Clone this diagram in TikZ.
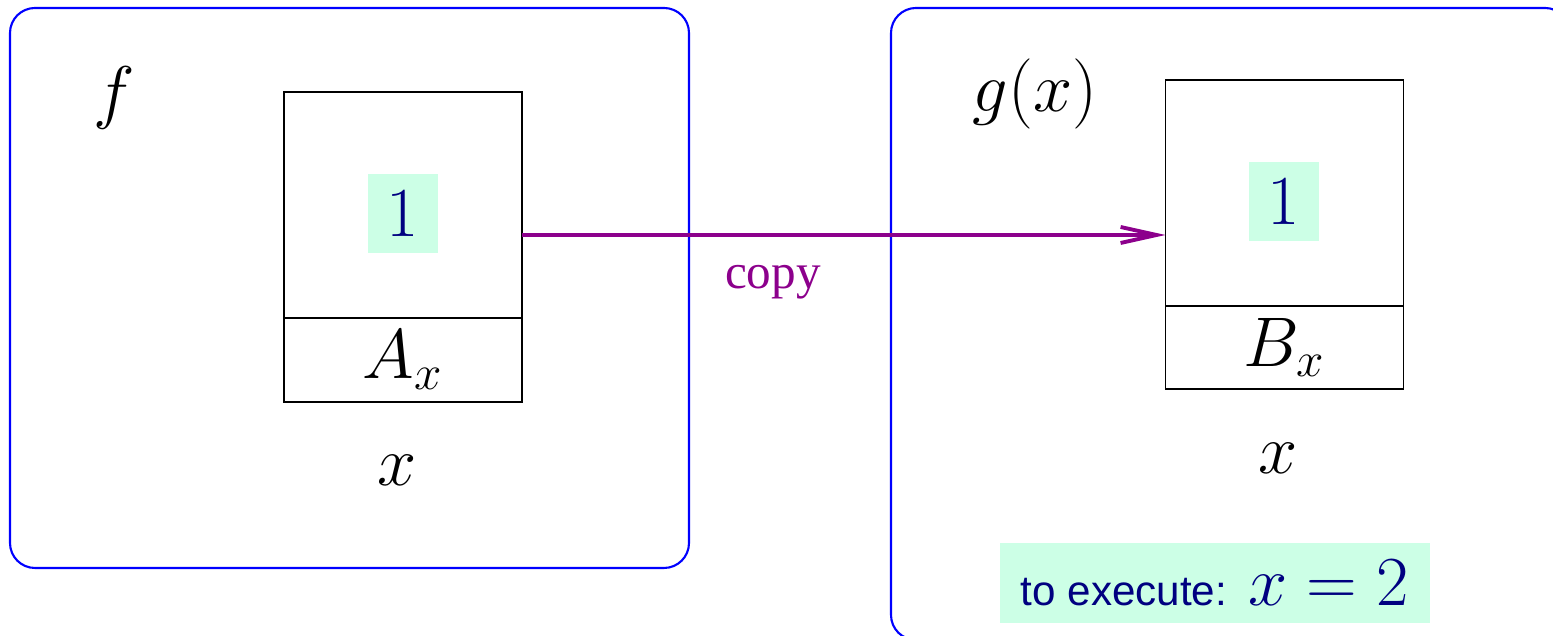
\RequirePackage{fix-cm}
\documentclass[tikz,border=0pt]{standalone}
\usepackage{fontspec}
\setsansfont{Liberation Sans}
\newfontfamily\copyfont{Liberation Serif}
\usetikzlibrary{arrows.meta}
\definecolor{framecol}{RGB}{0,0,255}
\definecolor{copycol}{RGB}{140,0,140}
\definecolor{valtext}{RGB}{0,0,128}
\definecolor{valfill}{RGB}{204,255,230}
\tikzset{frame/.style={draw=framecol,line width=0.6pt,rounded corners=0.25cm},
 cell/.style={draw,line width=0.55pt,inner sep=0pt,outer sep=0pt,minimum width=2.38cm},
 valbox/.style={fill=valfill,text=valtext,inner sep=0pt,minimum width=0.7cm,minimum height=0.79cm},
 copyarrow/.style={-{Straight Barb[length=3.6mm,width=1.6mm]},copycol,line width=1.1pt},
 every node/.style={font=\fontsize{20}{24}\selectfont}}

\begin{document}
\begin{tikzpicture}
\useasboundingbox (0,0) rectangle (15.53,6.36);
\clip (0,0) rectangle (15.53,6.36);
\draw[frame] (0.10,0.68) rectangle (6.89,6.28);
\draw[frame] (8.91,-0.04) rectangle (15.70,6.28);
% caller f
\node (fname) at (1.14,5.38) {$f$};
\node[cell,minimum height=2.26cm] (boxA) at (4.03,4.31) {};
\node[cell,minimum height=0.84cm,anchor=north] (nameA) at (boxA.south) {$A_x$};
\node[valbox] (valA) at (4.03,4.225) {$1$};
\node (xA) at (3.97,1.66) {$x$};
% callee g(x)
\node (gname) at (10.35,5.42) {$g(x)$};
\node[cell,minimum height=2.26cm] (boxB) at (12.845,4.43) {};
\node[cell,minimum height=0.83cm,anchor=north] (nameB) at (boxB.south) {$B_x$};
\node[valbox] (valB) at (12.84,4.345) {$1$};
\node (xB) at (12.78,1.78) {$x$};
\node[fill=valfill,text=valtext,inner sep=0pt,minimum width=4.3cm,minimum height=0.8cm] (exec) at (12.15,0.53)
 {{\sffamily\fontsize{12}{14}\selectfont to execute:}\ $x=2$};
% copy of the value
\coordinate (copyfrom) at ([yshift=-3mm]boxA.east);
\draw[copyarrow] (copyfrom) -- (copyfrom -| boxB.west)
 node[pos=0.39,yshift=-0.47cm,text=copycol,font=\copyfont\fontsize{14}{17}\selectfont] (copylbl) {copy};
\end{tikzpicture}
\end{document}
